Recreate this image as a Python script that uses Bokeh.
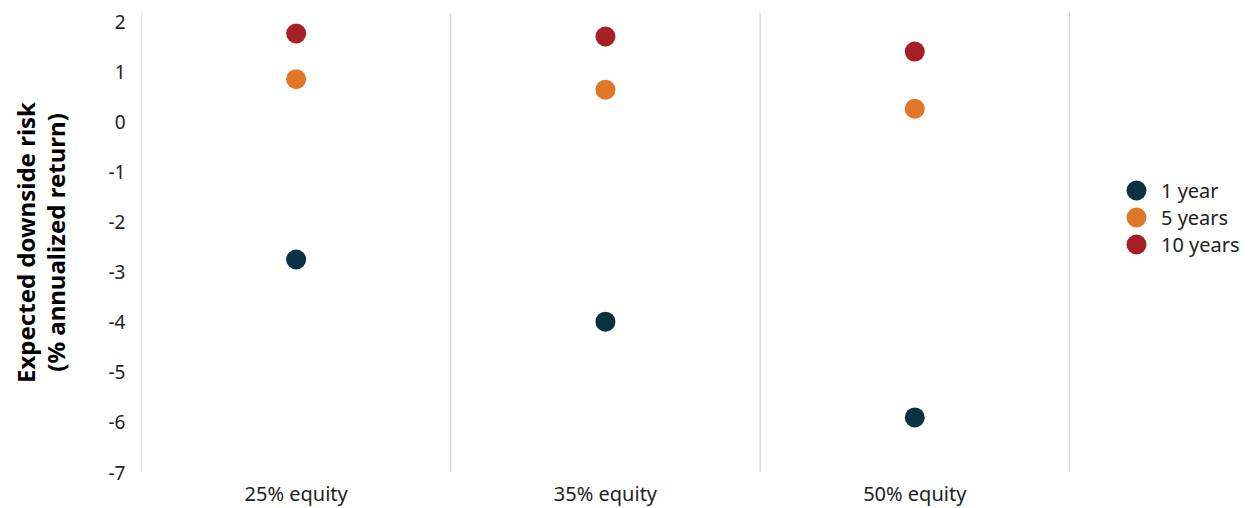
from bokeh.plotting import figure
from bokeh.models import ColumnDataSource, Range1d, FixedTicker, Span, Legend, LegendItem
from bokeh.embed import file_html
from bokeh.resources import INLINE

categories = ["25% equity", "35% equity", "50% equity"]
one_year = [-2.75, -3.99, -5.90]
five_years = [0.85, 0.64, 0.26]
ten_years = [1.76, 1.70, 1.40]
series_names = ["1 year", "5 years", "10 years"]
series_colors = ["#0b3142", "#e07628", "#a61f24"]
y_ticks = [-7, -6, -5, -4, -3, -2, -1, 0, 1, 2]

FONT = "Noto Sans"

# category i occupies the band [i, i+1]; extra room on the right holds the legend
x_pos = [i + 0.5 for i in range(len(categories))]
n = len(categories)

p = figure(frame_width=1107, frame_height=460, x_range=Range1d(0, 3.579),
           y_range=Range1d(-7, 2.18), output_backend="svg", toolbar_location=None,
           min_border_left=141, min_border_right=0, min_border_top=12, min_border_bottom=36)
p.outline_line_color = None
p.xgrid.visible = False
p.ygrid.visible = False

for loc in range(n + 1):
    p.add_layout(Span(location=loc, dimension="height", line_color="#cccccc", line_width=1))

renderers = []
for name, vals, col in zip(series_names, [one_year, five_years, ten_years], series_colors):
    src = ColumnDataSource(dict(x=x_pos, y=vals, cat=categories))
    r = p.scatter("x", "y", source=src, size=20, fill_color=col, line_color=col, line_width=0)
    renderers.append((name, r))

# one legend per row so that rows can sit closer than the marker box
row_offsets = [257, 230, 203]
for (name, r), vy in zip(renderers, row_offsets):
    lg = Legend(items=[LegendItem(label=name, renderers=[r])],
                location=(970, vy), glyph_width=50, glyph_height=50,
                label_height=20, padding=0, margin=0, label_standoff=0,
                label_text_font=FONT, label_text_font_size="20px", label_text_color="#222222",
                border_line_color=None, background_fill_alpha=0)
    p.add_layout(lg)

ya = p.yaxis[0]
ya.ticker = FixedTicker(ticks=y_ticks)
ya.major_label_overrides = {t: str(t) for t in y_ticks}
ya.axis_line_color = None
ya.major_tick_line_color = None
ya.minor_tick_line_color = None
ya.major_label_standoff = 10
ya.major_label_text_font = FONT
ya.major_label_text_font_size = "19px"
ya.major_label_text_color = "#222222"
ya.axis_label = "Expected downside risk\n(% annualized return)"
ya.axis_label_text_font = FONT
ya.axis_label_text_font_style = "bold"
ya.axis_label_text_font_size = "24px"
ya.axis_label_text_line_height = 0.9
ya.axis_label_text_color = "#000000"
ya.axis_label_standoff = 34

xa = p.xaxis[0]
xa.ticker = FixedTicker(ticks=x_pos)
xa.major_label_overrides = {x: c for x, c in zip(x_pos, categories)}
xa.axis_line_color = None
xa.major_tick_line_color = None
xa.minor_tick_line_color = None
xa.major_label_standoff = 1
xa.major_label_text_font = FONT
xa.major_label_text_font_size = "20px"
xa.major_label_text_color = "#222222"

open("out.html", "w").write(file_html(p, INLINE))
